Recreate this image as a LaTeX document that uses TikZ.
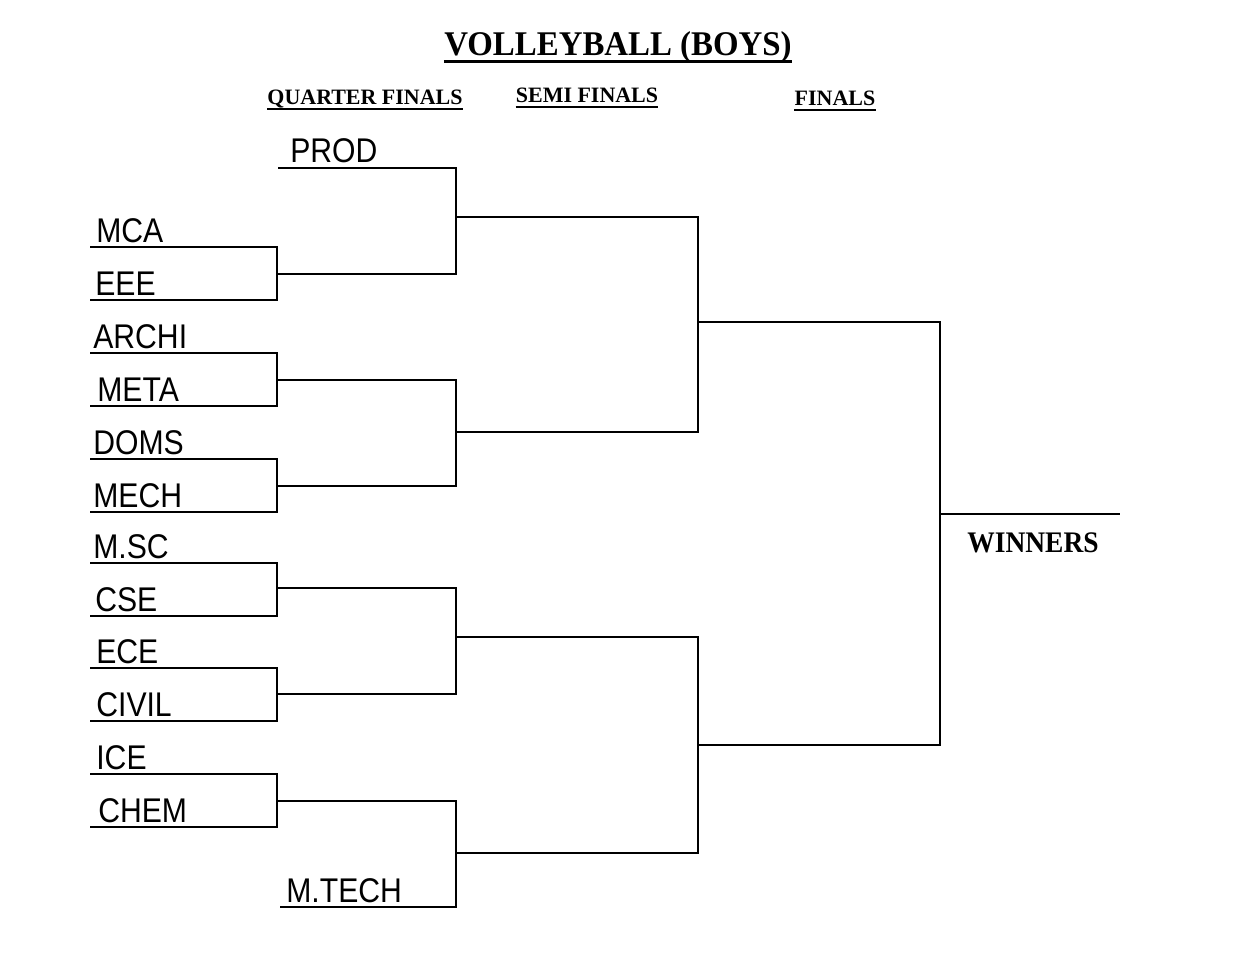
\documentclass[tikz,border=0pt]{standalone}
\usepackage{graphicx}
\usepackage{fontspec}
\setmainfont{Liberation Serif}
\newfontfamily\teamfont{Liberation Sans}
\usetikzlibrary{positioning}

\newcommand{\squeeze}[2][0.88]{\scalebox{#1}[1]{#2}}

\tikzset{
  team/.style={anchor=base west, inner sep=0pt,
    font=\teamfont\fontsize{19.5}{20}\selectfont},
  heading/.style={anchor=base, inner sep=0pt,
    font=\bfseries\fontsize{12.5}{13}\selectfont},
  bracket/.style={line width=1.2pt, line cap=rect},
}

\begin{document}
\begin{tikzpicture}[x=0.02cm, y=-0.02cm]
  \useasboundingbox (0,0) rectangle (1255,967);
  % Title and round headings
  \node[heading, font=\bfseries\fontsize{19.7}{20}\selectfont] (title) at (618,55)
    {\squeeze[0.95]{VOLLEYBALL (BOYS)}};
  \draw[line width=1.6pt] ([yshift=-3.6pt]title.base west) -- ([yshift=-3.6pt]title.base east);
  \node[heading] (quarter) at (365,104) {QUARTER FINALS};
  \node[heading] (semi) at (587,102) {SEMI FINALS};
  \node[heading] (final) at (835,105) {FINALS};
  \foreach \h in {quarter, semi, final}
    \draw[line width=1.1pt] ([yshift=-2.6pt]\h.base west) -- ([yshift=-2.6pt]\h.base east);

  % Teams
  \node[team] (prod) at (290,162) {\squeeze{PROD}};
  \node[team] (mca) at (96,242) {\squeeze{MCA}};
  \node[team] (eee) at (95,295) {\squeeze{EEE}};
  \node[team] (archi) at (93,348) {\squeeze{ARCHI}};
  \node[team] (meta) at (97,401) {\squeeze{META}};
  \node[team] (doms) at (93,454) {\squeeze{DOMS}};
  \node[team] (mech) at (93,507) {\squeeze{MECH}};
  \node[team] (msc) at (93,558) {\squeeze{M.SC}};
  \node[team] (cse) at (95,611) {\squeeze{CSE}};
  \node[team] (ece) at (96,663) {\squeeze{ECE}};
  \node[team] (civil) at (96,716) {\squeeze{CIVIL}};
  \node[team] (ice) at (96,769) {\squeeze{ICE}};
  \node[team] (chem) at (98,822) {\squeeze{CHEM}};
  \node[team] (mtech) at (286,902) {\squeeze{M.TECH}};

  % Match points
  \coordinate (m1) at (277,274);
  \coordinate (m2) at (277,380);
  \coordinate (m3) at (277,486);
  \coordinate (m4) at (277,588);
  \coordinate (m5) at (277,694);
  \coordinate (m6) at (277,801);
  \coordinate (q1) at (456,217);
  \coordinate (q2) at (456,432);
  \coordinate (q3) at (456,637);
  \coordinate (q4) at (456,853);
  \coordinate (s1) at (698,322);
  \coordinate (s2) at (698,745);
  \coordinate (f1) at (940,514);
  \coordinate (champ) at (1119,514);

  % First round
  \draw[bracket] (91,247) -- (277,247) -- (277,300) -- (91,300);
  \draw[bracket] (91,353) -- (277,353) -- (277,406) -- (91,406);
  \draw[bracket] (91,459) -- (277,459) -- (277,512) -- (91,512);
  \draw[bracket] (91,563) -- (277,563) -- (277,616) -- (91,616);
  \draw[bracket] (91,668) -- (277,668) -- (277,721) -- (91,721);
  \draw[bracket] (91,774) -- (277,774) -- (277,827) -- (91,827);

  % Quarter finals
  \draw[bracket] (279,168) -- (456,168) -- (456,274) -- (m1);
  \draw[bracket] (m2) -- (456,380) -- (456,486) -- (m3);
  \draw[bracket] (m4) -- (456,588) -- (456,694) -- (m5);
  \draw[bracket] (m6) -- (456,801) -- (456,907) -- (281,907);

  % Semi finals
  \draw[bracket] (q1) -- (698,217) -- (698,432) -- (q2);
  \draw[bracket] (q3) -- (698,637) -- (698,853) -- (q4);

  % Finals
  \draw[bracket] (s1) -- (940,322) -- (940,745) -- (s2);
  \draw[bracket] (f1) -- (champ);
  \node[heading, font=\bfseries\fontsize{17}{18}\selectfont] (winners) at (1033,552)
    {\squeeze[0.92]{WINNERS}};
\end{tikzpicture}
\end{document}
